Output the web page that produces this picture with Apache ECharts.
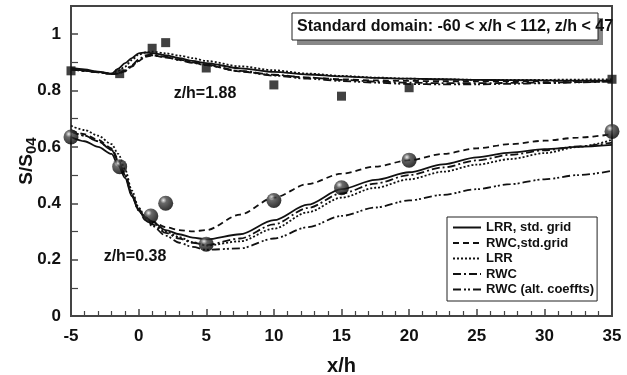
<!DOCTYPE html>
<html>
<head>
<meta charset="utf-8">
<script src="https://cdn.jsdelivr.net/npm/echarts@6/dist/echarts.min.js"></script>
<style>
  html, body { margin: 0; padding: 0; background: #fff; }
  #chart { width: 627px; height: 375px; }
</style>
</head>
<body>
<div id="chart"></div>
<script>
// x/h positions shared by all model curves
var xs = [-5, -4, -3, -2, -1.5, -1, -0.5, 0, 0.5, 1, 2, 3, 4, 5, 7.5, 10, 12.5, 15, 17.5, 20, 22.5, 25, 27.5, 30, 32.5, 35]

// z/h = 1.88
var lrrStdHi = [0.88, 0.875, 0.867, 0.86, 0.878, 0.897, 0.915, 0.932, 0.935, 0.933, 0.925, 0.915, 0.905, 0.897, 0.879, 0.866, 0.857, 0.85, 0.845, 0.842, 0.84, 0.838, 0.837, 0.836, 0.835, 0.835]
var rwcStdHi = [0.875, 0.87, 0.865, 0.858, 0.86, 0.868, 0.885, 0.905, 0.922, 0.925, 0.918, 0.91, 0.9, 0.89, 0.868, 0.855, 0.846, 0.84, 0.836, 0.834, 0.833, 0.833, 0.833, 0.834, 0.834, 0.835]
var lrrHi = [0.875, 0.872, 0.866, 0.86, 0.87, 0.885, 0.908, 0.928, 0.935, 0.938, 0.932, 0.924, 0.915, 0.905, 0.886, 0.872, 0.86, 0.852, 0.846, 0.842, 0.84, 0.838, 0.838, 0.838, 0.839, 0.84]
var rwcHi = [0.875, 0.87, 0.865, 0.858, 0.862, 0.872, 0.89, 0.91, 0.925, 0.928, 0.92, 0.91, 0.9, 0.892, 0.87, 0.856, 0.846, 0.838, 0.832, 0.828, 0.826, 0.826, 0.827, 0.828, 0.83, 0.832]
var rwcAltHi = [0.875, 0.87, 0.865, 0.858, 0.86, 0.87, 0.887, 0.905, 0.92, 0.925, 0.918, 0.908, 0.898, 0.89, 0.868, 0.853, 0.842, 0.834, 0.828, 0.823, 0.822, 0.822, 0.824, 0.826, 0.829, 0.832]

// z/h = 0.38
var lrrStdLo = [0.635, 0.62, 0.6, 0.575, 0.535, 0.49, 0.425, 0.375, 0.35, 0.335, 0.305, 0.29, 0.278, 0.272, 0.29, 0.34, 0.395, 0.45, 0.483, 0.51, 0.538, 0.563, 0.58, 0.592, 0.6, 0.607]
var rwcStdLo = [0.66, 0.645, 0.625, 0.595, 0.555, 0.5, 0.435, 0.38, 0.35, 0.335, 0.315, 0.305, 0.3, 0.305, 0.36, 0.42, 0.468, 0.505, 0.53, 0.553, 0.575, 0.595, 0.61, 0.622, 0.633, 0.645]
var lrrLo = [0.675, 0.66, 0.64, 0.61, 0.575, 0.52, 0.445, 0.385, 0.35, 0.33, 0.3, 0.28, 0.262, 0.25, 0.265, 0.31, 0.368, 0.42, 0.455, 0.485, 0.512, 0.537, 0.557, 0.578, 0.6, 0.625]
var rwcLo = [0.655, 0.64, 0.62, 0.59, 0.55, 0.5, 0.43, 0.375, 0.345, 0.325, 0.295, 0.275, 0.26, 0.252, 0.275, 0.325, 0.383, 0.435, 0.47, 0.5, 0.527, 0.552, 0.572, 0.588, 0.602, 0.615]
var rwcAltLo = [0.655, 0.64, 0.62, 0.59, 0.55, 0.5, 0.43, 0.375, 0.34, 0.32, 0.285, 0.26, 0.245, 0.235, 0.24, 0.275, 0.315, 0.355, 0.385, 0.41, 0.43, 0.45, 0.468, 0.485, 0.5, 0.515]

// measurements
var measX = [-5, -1.4, 1, 2, 5, 10, 15, 20, 35]
var measHi = [0.87, 0.86, 0.95, 0.97, 0.88, 0.82, 0.78, 0.81, 0.84]
var measLoX = [-5, -1.4, 0.9, 2, 5, 10, 15, 20, 35]
var measLo = [0.635, 0.53, 0.355, 0.40, 0.255, 0.41, 0.455, 0.553, 0.655]

var names = ['LRR, std. grid', 'RWC,std.grid', 'LRR', 'RWC', 'RWC (alt. coeffts)']
var dashes = ['solid', [6, 4], [2, 2], [8, 3, 2, 3], [8, 3, 2, 2, 2, 3]]

function pairs (x, y) {
  return x.map(function (v, i) { return [v, y[i]] })
}

var chart = echarts.init(document.getElementById('chart'))
var font = 'Liberation Sans, Arial, sans-serif'

var series = []
var hi = [lrrStdHi, rwcStdHi, lrrHi, rwcHi, rwcAltHi]
var lo = [lrrStdLo, rwcStdLo, lrrLo, rwcLo, rwcAltLo]
names.forEach(function (n, i) {
  [hi[i], lo[i]].forEach(function (ys) {
    series.push({
      name: n,
      type: 'line',
      data: pairs(xs, ys),
      smooth: 0.3,
      smoothMonotone: 'x',
      symbol: 'none',
      color: '#111',
      lineStyle: { color: '#111', width: 1.8, type: dashes[i] }
    })
  })
})

series.push({
  name: 'meas hi',
  type: 'scatter',
  data: pairs(measX, measHi),
  symbol: 'rect',
  symbolSize: 9,
  clip: false,
  itemStyle: { color: '#111' },
  z: 5
})
series.push({
  name: 'meas lo',
  type: 'scatter',
  data: pairs(measLoX, measLo),
  symbol: 'circle',
  symbolSize: 15,
  clip: false,
  itemStyle: {
    color: new echarts.graphic.RadialGradient(0.35, 0.3, 0.7, [
      { offset: 0, color: '#e8e8e8' },
      { offset: 0.3, color: '#444' },
      { offset: 1, color: '#000' }
    ])
  },
  z: 5
})

chart.setOption({
  backgroundColor: '#fff',
  animation: false,
  textStyle: { fontFamily: font },
  grid: {
    left: 71, right: 15, top: 6, bottom: 59,
    outerBoundsMode: 'none',
    containLabel: false,
    show: true, borderColor: '#444', borderWidth: 2
  },
  legend: {
    data: names,
    orient: 'vertical',
    left: 447,
    top: 217,
    padding: [4, 3, 5, 5],
    itemGap: 2.5,
    itemWidth: 28,
    itemHeight: 14,
    borderColor: '#222',
    borderWidth: 1,
    backgroundColor: '#fff',
    itemStyle: { opacity: 0 },
    textStyle: { fontFamily: font, fontWeight: 'bold', fontSize: 13, color: '#111' }
  },
  xAxis: {
    type: 'value',
    min: -5,
    max: 35,
    interval: 5,
    name: 'x/h',
    nameLocation: 'middle',
    nameGap: 40,
    nameTextStyle: { fontFamily: font, fontWeight: 'bold', fontSize: 20, color: '#111' },
    axisLine: { lineStyle: { color: '#444', width: 2 } },
    axisTick: { inside: true, length: 7, lineStyle: { color: '#444', width: 1.5 } },
    minorTick: { show: true, splitNumber: 5, length: 5, lineStyle: { color: '#444', width: 1.2 } },
    splitLine: { show: false },
    axisLabel: { margin: 12, fontFamily: font, fontWeight: 'bold', fontSize: 17, color: '#111' }
  },
  yAxis: {
    type: 'value',
    min: 0,
    max: 1.1,
    interval: 0.2,
    name: 'S/S{sub|04}',
    nameLocation: 'middle',
    nameRotate: 90,
    nameGap: 32,
    nameMoveOverlap: false,
    nameTextStyle: {
      fontFamily: font, fontWeight: 'bold', fontSize: 19, color: '#111',
      rich: {
        sub: { fontFamily: font, fontWeight: 'bold', fontSize: 15, color: '#111', padding: [9, 0, 0, 0] }
      }
    },
    axisLine: { onZero: false, lineStyle: { color: '#444', width: 2 } },
    axisTick: { inside: true, length: 7, lineStyle: { color: '#444', width: 1.5 } },
    minorTick: { show: true, splitNumber: 2, length: 7, lineStyle: { color: '#444', width: 1.2 } },
    splitLine: { show: false },
    axisLabel: { margin: 10, showMaxLabel: false, fontFamily: font, fontWeight: 'bold', fontSize: 17, color: '#111' }
  },
  graphic: [
    { type: 'rect', shape: { x: 297, y: 18, width: 306, height: 27 }, style: { fill: '#888' }, z: 10 },
    { type: 'rect', shape: { x: 292, y: 13, width: 306, height: 27 }, style: { fill: '#fff', stroke: '#222', lineWidth: 1 }, z: 11 },
    { type: 'text', x: 297, y: 27, style: { text: 'Standard domain: -60 < x/h < 112, z/h < 47', font: 'bold 16px ' + font, fill: '#111', verticalAlign: 'middle' }, z: 12 },
    { type: 'text', x: 205, y: 94, style: { text: 'z/h=1.88', font: 'bold 16px ' + font, fill: '#111', align: 'center', verticalAlign: 'middle' }, z: 12 },
    { type: 'text', x: 135, y: 257, style: { text: 'z/h=0.38', font: 'bold 16px ' + font, fill: '#111', align: 'center', verticalAlign: 'middle' }, z: 12 }
  ],
  series: series
})
</script>
</body>
</html>
